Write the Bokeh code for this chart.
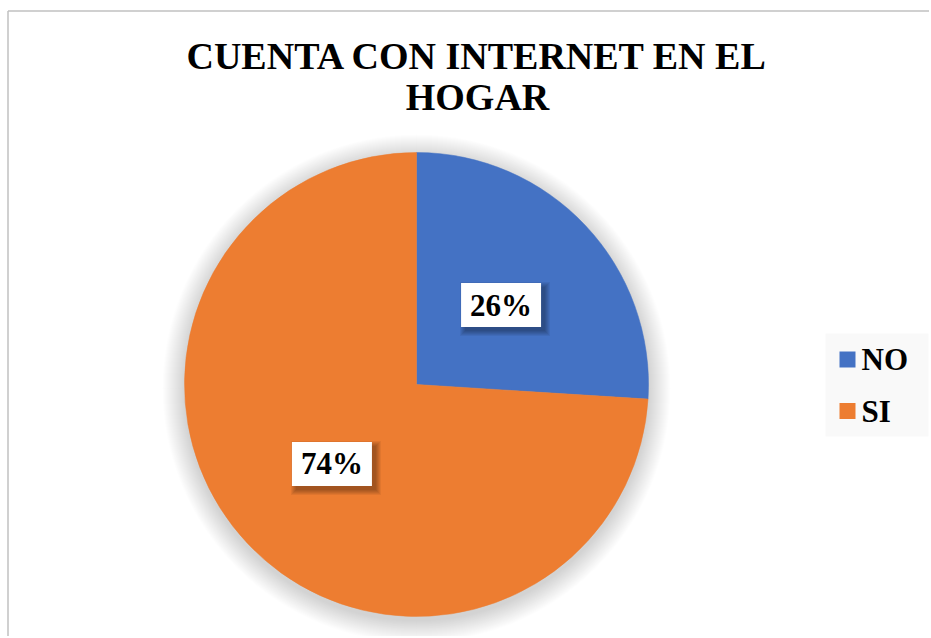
import math
from bokeh.plotting import figure
from bokeh.models import Range1d
from bokeh.core.properties import value
from bokeh.embed import file_html
from bokeh.resources import INLINE

# ---- data ----
categories = ["NO", "SI"]
percentages = [26, 74]
colors = ["#4472C4", "#ED7D31"]
title_lines = ["CUENTA CON INTERNET EN EL", "HOGAR"]

FONT = value("Times New Roman")

W, H = 929, 636
# data coordinates: x = page pixel, y = H - page pixel
p = figure(width=W, height=H, output_backend="svg", toolbar_location=None,
           x_range=Range1d(0, W), y_range=Range1d(0, H), min_border=0)
p.axis.visible = False
p.grid.visible = False
p.outline_line_color = None
p.background_fill_color = "white"
p.border_fill_color = "white"


def Y(py):
    return H - py


# chart-area border (top and left visible)
p.segment(x0=[7.5, 7.5], y0=[Y(10.5), Y(10.5)], x1=[7.5, W], y1=[Y(H), Y(10.5)],
          line_color="#C0C0C0", line_width=1.5)

# ---- pie ----
cx, cy, R = 416, Y(384), 232

# soft shadow
for k in range(22):
    p.circle(x=[cx], y=[cy - 4], radius=R + 22 - k, fill_color="black",
             fill_alpha=0.009, line_color=None)

total = sum(percentages)
start = math.pi / 2
mids = []
for cat, val, col in zip(categories, percentages, colors):
    sweep = val / total * 2 * math.pi
    p.wedge(x=[cx], y=[cy], radius=R, start_angle=start - sweep, end_angle=start,
            direction="anticlock", fill_color=col, line_color=col, line_width=0.5)
    mids.append(start - sweep / 2)
    start -= sweep

# data labels with boxes
bw, bh = 80, 44
for val, ang in zip(percentages, mids):
    lx = cx + 0.5 * R * math.cos(ang)
    ly = cy + 0.5 * R * math.sin(ang)
    for s in range(6):
        p.rect(x=[lx + 4], y=[ly - 4], width=bw + 10 - 2 * s, height=bh + 10 - 2 * s,
               fill_color="black", fill_alpha=0.06, line_color=None)
    p.rect(x=[lx], y=[ly], width=bw, height=bh, fill_color="white", line_color=None)
    p.text(x=[lx], y=[ly], text=[f"{val}%"], text_font=FONT,
           text_font_style="bold", text_font_size="31px", text_color="black",
           text_align="center", text_baseline="middle")

# ---- title ----
for line, ty in zip(title_lines, [55, 96]):
    p.text(x=[477], y=[Y(ty)], text=[line], text_font=FONT,
           text_font_style="bold", text_font_size="38px", text_color="black",
           text_align="center", text_baseline="middle")

# ---- legend ----
p.quad(left=[825], right=[928], top=[Y(333)], bottom=[Y(436)],
       fill_color="#F9F9F9", line_color=None)
leg_y = [359, 410.5]
for cat, col, ly in zip(categories, colors, leg_y):
    p.rect(x=[847], y=[Y(ly)], width=16, height=16, fill_color=col, line_color=None)
    p.text(x=[861], y=[Y(ly)], text=[cat], text_font=FONT,
           text_font_style="bold", text_font_size="31px", text_color="black",
           text_align="left", text_baseline="middle")

open("out.html", "w").write(file_html(p, INLINE))
